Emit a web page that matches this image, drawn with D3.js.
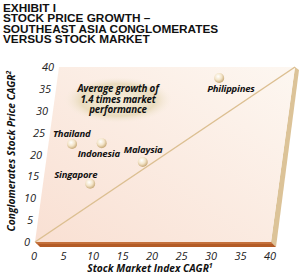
<!DOCTYPE html>
<html>
<head>
<meta charset="utf-8">
<script src="https://cdn.jsdelivr.net/npm/d3@7"></script>
<style>
  body { margin: 0; background: #fff; }
  svg { display: block; }
</style>
</head>
<body>
<svg id="chart"></svg>
<script>
const titleLines = ["EXHIBIT I", "STOCK PRICE GROWTH \u2013", "SOUTHEAST ASIA CONGLOMERATES", "VERSUS STOCK MARKET"];
const countries = ["Thailand", "Indonesia", "Malaysia", "Singapore", "Philippines"];
const marketCagr = [4, 9, 16.4, 8, 27.4];
const congloCagr = [22.4, 22.6, 18.3, 13.3, 37.5];
const xTicks = [0, 5, 10, 15, 20, 25, 30, 35, 40];
const yTicks = [0, 5, 10, 15, 20, 25, 30, 35, 40];
const noteLines = ["Average growth of", "1.4 times market", "performance"];

const W = 300, H = 280;
const svg = d3.select("#chart").attr("width", W).attr("height", H);

const x = d3.scaleLinear().domain([0, 40]).range([35, 271]);
const y = d3.scaleLinear().domain([0, 40]).range([242, 67]);
const skew = 24 / 175;
// skewed plane: the higher a point, the further right
const px = (a, b) => x(a) + (y(0) - y(b)) * skew;
const py = (a, b) => y(b);

const defs = svg.append("defs");
const pg = defs.append("linearGradient").attr("id", "plane").attr("x1", "0").attr("y1", "1").attr("x2", "1").attr("y2", "0");
pg.append("stop").attr("offset", "0%").attr("stop-color", "#f9e0d3");
pg.append("stop").attr("offset", "100%").attr("stop-color", "#fdf7f1");

const ball = defs.append("radialGradient").attr("id", "ball").attr("cx", "0.4").attr("cy", "0.35").attr("r", "0.65");
ball.append("stop").attr("offset", "0%").attr("stop-color", "#ffffff");
ball.append("stop").attr("offset", "55%").attr("stop-color", "#f3e4c8");
ball.append("stop").attr("offset", "100%").attr("stop-color", "#c9ab7a");

const glow = defs.append("radialGradient").attr("id", "glow");
glow.append("stop").attr("offset", "0%").attr("stop-color", "#f6eedd");
glow.append("stop").attr("offset", "70%").attr("stop-color", "#eadcbf");
glow.append("stop").attr("offset", "100%").attr("stop-color", "#f7ecdf").attr("stop-opacity", 0);

// title
svg.append("g").selectAll("text")
  .data(titleLines)
  .enter().append("text")
  .attr("x", 3)
  .attr("y", (d, i) => 11.5 + i * 10.5)
  .style("font-family", "'Liberation Sans', Arial, sans-serif")
  .style("font-weight", "bold")
  .style("font-size", "11.8px")
  .style("fill", "#111")
  .text(d => d);

// side and bottom faces
const corners = [[0, 0], [40, 0], [40, 40], [0, 40]].map(([a, b]) => [px(a, b), py(a, b)]);
const [bl, br, tr, tl] = corners;
svg.append("polygon")
  .attr("points", [tr, [tr[0] + 4, tr[1] + 3], [br[0] + 5, br[1] + 5], br].map(p => p.join(",")).join(" "))
  .attr("fill", "#dcc398");
svg.append("polygon")
  .attr("points", [bl, br, [br[0] + 5, br[1] + 5], [bl[0] + 5, bl[1] + 5]].map(p => p.join(",")).join(" "))
  .attr("fill", "#b35b26");
svg.append("line")
  .attr("x1", bl[0] + 1).attr("y1", bl[1] + 1)
  .attr("x2", br[0] + 1).attr("y2", br[1] + 1)
  .attr("stroke", "#d58650").attr("stroke-width", 1.2);

// plane
svg.append("polygon")
  .attr("points", corners.map(p => p.join(",")).join(" "))
  .attr("fill", "url(#plane)");

// glow behind the note
svg.append("ellipse")
  .attr("cx", 118).attr("cy", 100).attr("rx", 54).attr("ry", 23)
  .attr("fill", "url(#glow)");

svg.append("g").selectAll("text")
  .data(noteLines)
  .enter().append("text")
  .attr("x", 118)
  .attr("y", (d, i) => 92 + i * 10.5)
  .attr("text-anchor", "middle")
  .style("font-family", "'Open Sans', sans-serif")
  .style("font-style", "italic")
  .style("font-weight", "bold")
  .style("font-size", "9.8px")
  .style("letter-spacing", "-0.2px")
  .style("fill", "#111")
  .text(d => d);

// parity line
svg.append("line")
  .attr("x1", px(0, 0)).attr("y1", py(0, 0))
  .attr("x2", px(40, 40)).attr("y2", py(40, 40))
  .attr("stroke", "#dcbf91").attr("stroke-width", 1.5);

// tick labels
svg.append("g").selectAll("text")
  .data(yTicks)
  .enter().append("text")
  .attr("x", d => px(0, d) - 5)
  .attr("y", d => py(0, d) + 4)
  .attr("text-anchor", "end")
  .style("font-family", "'Open Sans', sans-serif")
  .style("font-style", "italic")
  .style("font-size", "11px")
  .style("fill", "#222")
  .text(d => d);

svg.append("g").selectAll("text")
  .data(xTicks)
  .enter().append("text")
  .attr("x", d => x(d) - 1)
  .attr("y", 260)
  .attr("text-anchor", "middle")
  .style("font-family", "'Open Sans', sans-serif")
  .style("font-style", "italic")
  .style("font-size", "11px")
  .style("fill", "#222")
  .text(d => d);

// axis titles
const axisTitle = sel => sel
  .style("font-family", "'Open Sans', sans-serif")
  .style("font-style", "italic")
  .style("font-weight", "bold")
  .style("font-size", "10.2px")
  .style("fill", "#111");

const xt = svg.append("text").attr("x", 150).attr("y", 272).attr("text-anchor", "middle").call(axisTitle);
xt.append("tspan").text("Stock Market Index CAGR");
xt.append("tspan").attr("dy", -4).style("font-size", "7px").text("1");

const yt = svg.append("text")
  .attr("transform", "translate(15,151) rotate(-90)")
  .attr("text-anchor", "middle")
  .call(axisTitle);
yt.append("tspan").text("Conglomerates Stock Price CAGR");
yt.append("tspan").attr("dy", -4).style("font-size", "7px").text("2");

// points
const pts = countries.map((c, i) => ({ name: c, mx: marketCagr[i], cy: congloCagr[i] }));
const labelPos = {
  Thailand: [-19, -7],
  Indonesia: [-24, 14],
  Malaysia: [-19, -9],
  Singapore: [-36, -6],
  Philippines: [-12, 14]
};

svg.append("g").selectAll("circle")
  .data(pts)
  .enter().append("circle")
  .attr("cx", d => px(d.mx, d.cy))
  .attr("cy", d => py(d.mx, d.cy))
  .attr("r", 5)
  .attr("fill", "url(#ball)");

svg.append("g").selectAll("text")
  .data(pts)
  .enter().append("text")
  .attr("x", d => px(d.mx, d.cy) + labelPos[d.name][0])
  .attr("y", d => py(d.mx, d.cy) + labelPos[d.name][1])
  .style("font-family", "'Open Sans', sans-serif")
  .style("font-style", "italic")
  .style("font-weight", "bold")
  .style("font-size", "9.5px")
  .style("letter-spacing", "-0.2px")
  .style("fill", "#111")
  .text(d => d.name);
</script>
</body>
</html>
